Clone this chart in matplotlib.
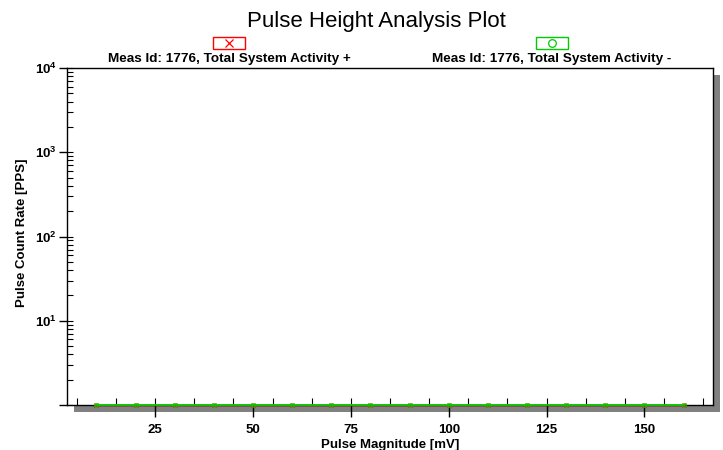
import matplotlib
matplotlib.use("Agg")
import matplotlib.pyplot as plt
from matplotlib.patches import Rectangle
import numpy as np

plt.rcParams['font.family'] = ['Liberation Sans', 'DejaVu Sans']
plt.rcParams['mathtext.fontset'] = 'custom'
plt.rcParams['mathtext.bf'] = 'Liberation Sans:bold'
plt.rcParams['mathtext.rm'] = 'Liberation Sans'

# data
pulse_mv = [10, 20, 30, 40, 50, 60, 70, 80, 90, 100, 110, 120, 130, 140, 150, 160]
rate_plus = [1.0] * 16
rate_minus = [1.0] * 16
series_names = ["Meas Id: 1776, Total System Activity +",
                "Meas Id: 1776, Total System Activity -"]
x_major = [25, 50, 75, 100, 125, 150]
x_minor = [5, 15, 25, 35, 45, 55, 65, 75, 85, 95, 105, 115, 125, 135, 145, 155, 165]
y_major = [1, 10, 100, 1000, 10000]
y_labels = ["", r"$\mathbf{10^{1}}$", r"$\mathbf{10^{2}}$", r"$\mathbf{10^{3}}$", r"$\mathbf{10^{4}}$"]

W, H = 723, 450
fig = plt.figure(figsize=(W / 100, H / 100), dpi=100)
L, R, T, B = 67, 713, 68, 405
ax = fig.add_axes([L / W, 1 - B / H, (R - L) / W, (B - T) / H])

# drop shadow
fig.patches.append(Rectangle(((L + 7) / W, 1 - (B + 7) / H), (R - L) / W, (B - T) / H,
                             transform=fig.transFigure, facecolor='#808080',
                             edgecolor='none', zorder=-10))

ax.set_yscale('log')
ax.set_xlim(2.5, 167.5)
ax.set_ylim(1, 10000)

ax.plot(pulse_mv, rate_plus, color='red', lw=1, marker='x', ms=3, mew=0.9, clip_on=False, zorder=3)
ax.plot(pulse_mv, rate_minus, color='#00cc00', lw=1.3, marker='o', ms=2.5, mfc='none', mew=0.8,
        clip_on=False, zorder=4)

ax.xaxis.remove_overlapping_locs = False
ax.yaxis.remove_overlapping_locs = False
ax.set_xticks(x_major)
ax.set_xticklabels([str(v) for v in x_major])
ax.set_xticks(x_minor, minor=True)
ax.set_yticks(y_major)
ax.set_yticklabels(y_labels)
y_minor = [m * d for d in [1, 10, 100, 1000] for m in range(1, 10)] + [10000]
ax.set_yticks(y_minor, minor=True)
ax.yaxis.set_minor_formatter(plt.NullFormatter())

ax.tick_params(axis='x', which='major', direction='out', length=8.5, width=1, labelsize=9.5, pad=5)
ax.tick_params(axis='x', which='minor', direction='in', length=5, width=0.8)
ax.tick_params(axis='y', which='major', direction='out', length=5.5, width=1, labelsize=9.5, pad=2)
ax.tick_params(axis='y', which='minor', direction='in', length=4, width=0.8)
for lab in ax.get_xticklabels():
    lab.set_fontweight('bold')
for s in ax.spines.values():
    s.set_linewidth(1)

fig.text(390 / W, 1 - 445 / H, "Pulse Magnitude [mV]", ha='center', va='center',
         fontsize=9.5, fontweight='bold')
fig.text(22 / W, 1 - 233 / H, "Pulse Count Rate [PPS]", ha='center', va='center',
         rotation=90, fontsize=9.5, fontweight='bold')
fig.text(376 / W, 1 - 21 / H, "Pulse Height Analysis Plot", ha='center', va='center', fontsize=16)

# legend boxes above the axes
leg_x = [229, 552]
leg_col = ['red', '#00cc00']
leg_mark = ['x', 'o']
for cx, name, c, m in zip(leg_x, series_names, leg_col, leg_mark):
    fig.text(cx / W, 1 - 59 / H, name, ha='center', va='center', fontsize=9.7, fontweight='bold')
    fig.patches.append(Rectangle(((cx - 16) / W, 1 - 49 / H), 32 / W, 12 / H,
                                 transform=fig.transFigure, facecolor='white',
                                 edgecolor=c, lw=1))
    fig.lines.append(plt.Line2D([cx / W], [1 - 43 / H], transform=fig.transFigure,
                                marker=m, color=c, mfc='none', ms=5.5, mew=0.9, ls='none'))

fig.savefig("out.png", dpi=100)
